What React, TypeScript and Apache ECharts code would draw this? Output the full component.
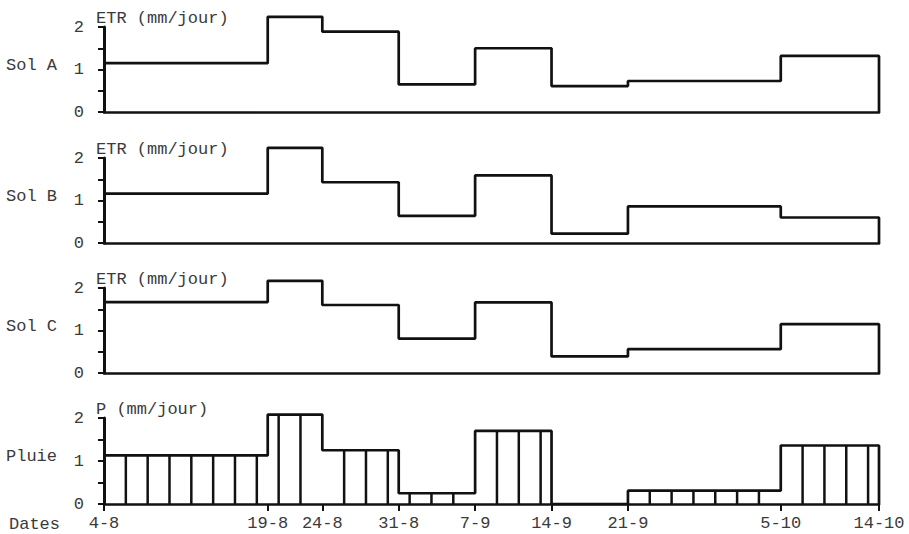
import React, { useEffect, useRef } from "react";
import * as echarts from "echarts";

// Period boundaries (days since 4 August) and their labels
const dateLabels = ["4-8", "19-8", "24-8", "31-8", "7-9", "14-9", "21-9", "5-10", "14-10"];
const dateDays = [0, 15, 20, 27, 34, 41, 48, 62, 71];

// Mean values per period (mm/jour)
const solA = [1.15, 2.24, 1.89, 0.65, 1.5, 0.61, 0.73, 1.32];
const solB = [1.16, 2.24, 1.43, 0.64, 1.59, 0.22, 0.86, 0.6];
const solC = [1.67, 2.17, 1.6, 0.81, 1.66, 0.39, 0.56, 1.15];
const pluie = [1.13, 2.08, 1.25, 0.25, 1.7, 0, 0.31, 1.36];

const panelNames = ["Sol A", "Sol B", "Sol C", "Pluie"];
const panelTitles = ["ETR (mm/jour)", "ETR (mm/jour)", "ETR (mm/jour)", "P (mm/jour)"];
const yTicks = [0, 0.5, 1, 1.5, 2];

const FONT = "'Liberation Mono', 'DejaVu Sans Mono', monospace";
const INK = "#111";
const TEXT = "#3a3a3a";

const gridTops = [27, 158, 288, 418];
const gridHeights = [85, 85, 85, 86];

function stepPoints(values: number[]) {
  const pts: number[][] = [];
  values.forEach((v, i) => {
    pts.push([dateDays[i], v]);
    pts.push([dateDays[i + 1], v]);
  });
  pts.push([dateDays[dateDays.length - 1], 0]);
  return pts;
}

function stripeData() {
  const out: number[][] = [];
  for (let d = 2; d < dateDays[dateDays.length - 1]; d += 2) {
    if (dateDays.indexOf(d) >= 0) continue;
    let idx = 0;
    for (let i = 0; i < dateDays.length - 1; i++) {
      if (d >= dateDays[i] && d < dateDays[i + 1]) idx = i;
    }
    out.push([d, pluie[idx]]);
  }
  return out;
}

export default function App() {
  const ref = useRef<HTMLDivElement>(null);
  useEffect(() => {
    if (!ref.current) return;
    const chart = echarts.init(ref.current, null, { renderer: "svg" });
    const series: any[] = [];
    [solA, solB, solC, pluie].forEach((vals, i) => {
      series.push({
        type: "line",
        xAxisIndex: i,
        yAxisIndex: i,
        data: stepPoints(vals),
        symbol: "none",
        clip: false,
        lineStyle: { color: INK, width: 2.7 },
      });
    });
    series.push({
      type: "custom",
      xAxisIndex: 3,
      yAxisIndex: 3,
      data: stripeData(),
      clip: false,
      renderItem: (params: any, api: any) => {
        const x = api.value(0);
        const h = api.value(1);
        if (!h) return null;
        const p0 = api.coord([x, 0]);
        const p1 = api.coord([x, h]);
        return {
          type: "line",
          shape: { x1: p0[0], y1: p0[1], x2: p1[0], y2: p1[1] },
          style: { stroke: INK, lineWidth: 2.5 },
        };
      },
    });

    const graphic: any[] = [];
    panelNames.forEach((n, i) => {
      const y1 = gridTops[i] + gridHeights[i] / 2 - 4;
      graphic.push({
        type: "text",
        left: 6,
        top: y1 - 9,
        style: { text: n, font: `17px ${FONT}`, fill: TEXT },
      });
      graphic.push({
        type: "text",
        left: 96,
        top: gridTops[i] - 17,
        style: { text: panelTitles[i], font: `17px ${FONT}`, fill: TEXT },
      });
    });
    graphic.push({
      type: "text",
      left: 9,
      top: 516,
      style: { text: "Dates", font: `17px ${FONT}`, fill: TEXT },
    });

    chart.setOption({
      animation: false,
      backgroundColor: "#fff",
      grid: gridTops.map((t, i) => ({ left: 104, right: 30, top: t, height: gridHeights[i] })),
      xAxis: [0, 1, 2, 3].map((i) => ({
        type: "value",
        gridIndex: i,
        min: 0,
        max: dateDays[dateDays.length - 1],
        axisLine: { show: true, onZero: false, lineStyle: { color: INK, width: 2.7 } },
        splitLine: { show: false },
        axisTick:
          i === 3
            ? { show: true, customValues: dateDays, length: 7, lineStyle: { color: INK, width: 2 } }
            : { show: false },
        axisLabel:
          i === 3
            ? {
                show: true,
                customValues: dateDays,
                margin: 11,
                fontFamily: FONT,
                fontSize: 17,
                color: TEXT,
                formatter: (v: number) => {
                  const k = dateDays.findIndex((d) => Math.abs(d - v) < 1e-6);
                  return k >= 0 ? dateLabels[k] : "";
                },
              }
            : { show: false },
      })),
      yAxis: [0, 1, 2, 3].map((i) => ({
        type: "value",
        gridIndex: i,
        min: 0,
        max: 2,
        interval: 0.5,
        axisLine: { show: true, onZero: false, lineStyle: { color: INK, width: 3 } },
        splitLine: { show: false },
        axisTick: { show: true, length: 6, lineStyle: { color: INK, width: 2 } },
        axisLabel: {
          show: true,
          margin: 20,
          fontFamily: FONT,
          fontSize: 17,
          color: TEXT,
          formatter: (v: number) => (yTicks.indexOf(v) >= 0 && v % 1 === 0 ? String(v) : ""),
        },
      })),
      series,
      graphic,
    });
    return () => chart.dispose();
  }, []);
  return (
    <div
      ref={ref}
      style={{ position: "absolute", left: 0, top: 0, width: 909, height: 534, background: "#fff" }}
    />
  );
}
